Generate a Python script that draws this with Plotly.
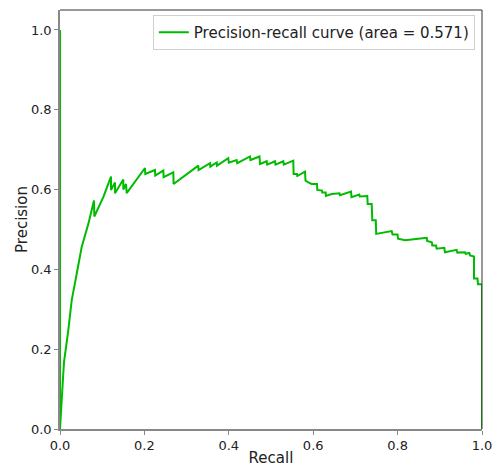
import plotly.graph_objects as go

recall = [0.0, 0.0, 0.0078, 0.0095, 0.0197, 0.0277, 0.0396, 0.0514, 0.0671, 0.0806, 0.0813,
          0.1026, 0.1209, 0.1209, 0.1303, 0.1303, 0.150, 0.150, 0.1564, 0.158,
          0.2014, 0.2021, 0.2251, 0.2258, 0.2448, 0.2455, 0.2685, 0.2692,
          0.3277, 0.3284, 0.3555, 0.3562, 0.3713, 0.372, 0.3988, 0.400, 0.4187, 0.420,
          0.4502, 0.4514, 0.4727, 0.474, 0.4898, 0.491, 0.5095, 0.5107, 0.5292, 0.5303,
          0.5528, 0.5536, 0.5616, 0.5623, 0.5806, 0.5818, 0.5884, 0.5964, 0.609, 0.6097,
          0.6209, 0.6216, 0.6296, 0.6303, 0.6438, 0.6623, 0.6635, 0.6896, 0.6908,
          0.7092, 0.7104, 0.7187, 0.7282, 0.7291, 0.7386, 0.740, 0.7483, 0.7493,
          0.786, 0.788, 0.7998, 0.801, 0.8175, 0.849, 0.869, 0.870, 0.881, 0.8823,
          0.891, 0.8926, 0.9107, 0.9123, 0.940, 0.9415, 0.9597, 0.9613, 0.970, 0.9716,
          0.981, 0.981, 0.9893, 0.9905, 1.0, 1.0]
precision = [1.0, 0.0, 0.139, 0.1675, 0.2475, 0.3225, 0.389, 0.456, 0.514, 0.5725, 0.5325,
             0.581, 0.6325, 0.599, 0.618, 0.591, 0.625, 0.600, 0.614, 0.591,
             0.654, 0.639, 0.649, 0.635, 0.6475, 0.631, 0.643, 0.614,
             0.660, 0.649, 0.666, 0.6575, 0.668, 0.660, 0.6787, 0.6675, 0.674, 0.666,
             0.683, 0.674, 0.683, 0.664, 0.671, 0.6625, 0.671, 0.6625, 0.671, 0.6625,
             0.6725, 0.639, 0.639, 0.634, 0.645, 0.6225, 0.618, 0.614, 0.614, 0.599,
             0.5975, 0.5925, 0.5925, 0.584, 0.589, 0.5905, 0.586, 0.595, 0.581,
             0.5875, 0.5825, 0.584, 0.584, 0.564, 0.564, 0.523, 0.523, 0.489,
             0.496, 0.4875, 0.4875, 0.477, 0.473, 0.477, 0.479, 0.471, 0.468, 0.460,
             0.460, 0.4517, 0.454, 0.443, 0.449, 0.442, 0.443, 0.439, 0.441, 0.435,
             0.4325, 0.377, 0.377, 0.3625, 0.3625, 0.0]
area = 0.571
tick_vals = [0, 0.2, 0.4, 0.6, 0.8, 1.0]
tick_text = ["0.0", "0.2", "0.4", "0.6", "0.8", "1.0"]

fig = go.Figure()
fig.add_trace(go.Scatter(
    x=recall, y=precision, mode="lines",
    line=dict(color="#00bb00", width=2),
    name=f"Precision-recall curve (area = {area:.3f})",
    showlegend=True,
))

axis_font = dict(family="DejaVu Sans", size=13, color="#222222")
title_font = dict(family="DejaVu Sans", size=15, color="#222222")
fig.update_layout(
    width=492, height=470,
    margin=dict(l=60, r=10, t=10, b=41, autoexpand=False),
    paper_bgcolor="white", plot_bgcolor="white",
    font=dict(family="DejaVu Sans", size=13, color="#222222"),
    showlegend=True,
    legend=dict(x=0.983, y=0.988, xanchor="right", yanchor="top",
                bgcolor="rgba(255,255,255,0.8)", bordercolor="#d0d0d0", borderwidth=1,
                font=dict(family="DejaVu Sans", size=15, color="#222222")),
    xaxis=dict(range=[0, 1], tickvals=tick_vals, ticktext=tick_text,
               ticks="outside", ticklen=4, tickcolor="#888888", tickfont=axis_font,
               ticklabeloverflow="allow",
               showline=True, linecolor="#888888", linewidth=1.5,
               showgrid=False, zeroline=False, automargin=False,
               title=dict(text="Recall", font=title_font, standoff=0)),
    yaxis=dict(range=[0, 1.05], tickvals=tick_vals, ticktext=tick_text,
               ticks="outside", ticklen=4, tickcolor="#888888", tickfont=axis_font,
               ticklabeloverflow="allow",
               showline=True, linecolor="#888888", linewidth=1.5,
               showgrid=False, zeroline=False, automargin=False,
               title=dict(text="Precision", font=title_font, standoff=0)),
)
# top and right spines
fig.add_shape(type="line", xref="paper", yref="paper", x0=0, x1=1, y0=1, y1=1,
              line=dict(color="#333333", width=1))
fig.add_shape(type="line", xref="paper", yref="paper", x0=1, x1=1, y0=0, y1=1,
              line=dict(color="#333333", width=1))

fig.write_html("out.html")
